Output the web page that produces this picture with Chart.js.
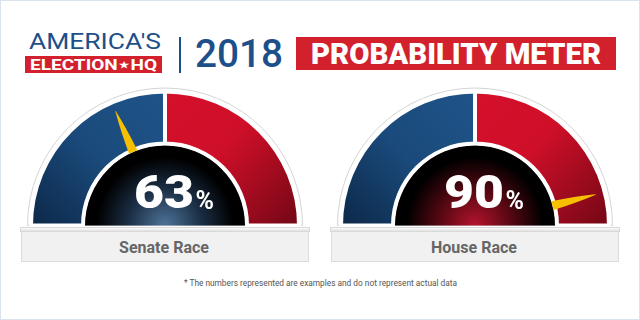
<!DOCTYPE html>
<html>
<head>
<meta charset="utf-8">
<script src="https://cdn.jsdelivr.net/npm/chart.js@4.4.1/dist/chart.umd.min.js"></script>
<style>
  html, body { margin: 0; padding: 0; background: #fff; }
  #page {
    position: relative; width: 640px; height: 320px; overflow: hidden; background: #fff;
    font-family: Roboto, "Noto Sans", sans-serif;
    box-shadow: inset 0 0 0 1px #dbe4ee;
  }
  .t { position: absolute; white-space: nowrap; transform-origin: 0 0; }
  .box { position: absolute; }
  canvas { position: absolute; }
  .lip {
    position: absolute; height: 5px;
    background: linear-gradient(#fbfbfb, #e2e2e2);
    border: 1px solid #d9d9d9; box-sizing: border-box;
  }
  .plate {
    position: absolute; height: 30px; background: #f1f1f1;
    border: 1px solid #dcdcdc; border-top: none; box-sizing: border-box;
  }
  .star { font-size: 9px; vertical-align: 2px; margin: 0 1px; }
</style>
</head>
<body>
<div id="page"></div>

<script>
// ---- data ----
const races = ['Senate Race', 'House Race'];
const chances = [63, 90];        // big number shown in each dial (percent)
const needleAt = [37, 92];       // needle position along the dial, 0 = left end, 100 = right end
const dialSplit = [50, 50];      // blue half / red half of each dial
const sides = ['Democrats', 'Republicans'];

// ---- layout ----
const page = document.getElementById('page');
const centers = [165, 475];
const baseY = 226;
const glows = [
  ['#4f7499', '#1b2f46', '#000'],
  ['#b5132d', '#560812', '#000']
];

function put(text, o) {
  const el = document.createElement('span');
  el.className = 't';
  if (o.html) el.innerHTML = o.html; else el.textContent = text;
  el.style.font = `${o.weight || 400} ${o.size}px ${o.family || 'Roboto'}`;
  el.style.lineHeight = o.size + 'px';
  el.style.color = o.color || '#000';
  page.appendChild(el);
  const w = el.getBoundingClientRect().width;
  const sx = o.width ? o.width / w : (o.sx || 1);
  const x = o.center !== undefined ? o.center - w * sx / 2 : o.left;
  el.style.left = x + 'px';
  el.style.top = (o.base - 0.842 * o.size) + 'px';
  if (sx !== 1) el.style.transform = `scaleX(${sx})`;
  return { el, right: x + w * sx };
}

function box(left, top, w, h, bg) {
  const d = document.createElement('div');
  d.className = 'box';
  Object.assign(d.style, { left: left + 'px', top: top + 'px', width: w + 'px', height: h + 'px', background: bg });
  page.appendChild(d);
  return d;
}

// header
put("AMERICA'S", { left: 29, base: 50, size: 22, weight: 400, color: '#1d4f8a', width: 132 });
box(25, 56, 137, 17, '#d3202d');
put('ELECTION★HQ', { html: 'ELECTION<span class="star">★</span>HQ', center: 93.5, base: 70.5, size: 15, weight: 700, color: '#fff', width: 127 });
box(179, 37, 1.5, 36, '#1d4f8a');
put('2018', { left: 195, base: 68, size: 39, weight: 500, color: '#1d4f8a', width: 88 });
box(296, 37, 320, 33, '#d3202d');
put('PROBABILITY METER', { center: 456, base: 64.5, size: 29, weight: 900, color: '#fff', width: 290 });

// ---- chart pieces ----
function ringFill(c) {
  const chart = c.chart, area = chart.chartArea;
  const flat = c.dataIndex === 0 ? '#1b4e80' : '#c80f28';
  if (!area) return flat;
  const ctrl = chart.getDatasetMeta(0).controller;
  if (!Number.isFinite(ctrl.offsetY) || !Number.isFinite(ctrl.outerRadius)) return flat;
  const cx = (area.left + area.right) / 2 + ctrl.offsetX;
  const cy = (area.top + area.bottom) / 2 + ctrl.offsetY;
  const r = ctrl.outerRadius;
  const ctx = chart.ctx;
  if (c.dataIndex === 0) {
    const g = ctx.createLinearGradient(cx, cy - r, cx - r, cy);
    g.addColorStop(0, '#1f5489');
    g.addColorStop(0.5, '#1a4a7b');
    g.addColorStop(1, '#0c2848');
    return g;
  }
  const g = ctx.createLinearGradient(cx - 10, cy - r, cx + r, cy);
  g.addColorStop(0, '#d5102b');
  g.addColorStop(0.45, '#cf0f29');
  g.addColorStop(1, '#720715');
  return g;
}

const dialDecor = {
  id: 'dialDecor',
  beforeDatasetsDraw(chart, args, opts) {
    const ring = chart.getDatasetMeta(0).data[0];
    const { x, y, outerRadius, innerRadius } = ring;
    const ctx = chart.ctx;
    ctx.save();
    // white rim with thin grey edge
    ctx.beginPath();
    ctx.arc(x, y, outerRadius + 3.5, Math.PI, 2 * Math.PI);
    ctx.closePath();
    ctx.fillStyle = '#fff';
    ctx.fill();
    ctx.strokeStyle = '#d4d4d4';
    ctx.lineWidth = 1;
    ctx.stroke();
    // dark face with glow at the bottom
    const fr = innerRadius - 1.5;
    const g = ctx.createRadialGradient(x, y, 0, x, y, fr);
    g.addColorStop(0, opts.glow[0]);
    g.addColorStop(0.45, opts.glow[1]);
    g.addColorStop(0.85, opts.glow[2]);
    ctx.beginPath();
    ctx.arc(x, y, fr, Math.PI, 2 * Math.PI);
    ctx.closePath();
    ctx.fillStyle = g;
    ctx.fill();
    ctx.restore();
  },
  afterDatasetsDraw(chart) {
    const ring = chart.getDatasetMeta(0).data[0];
    const mark = chart.getDatasetMeta(1).data[0];
    const ang = mark.endAngle;
    const r0 = ring.innerRadius - 2;
    const r1 = ring.outerRadius - 10;
    const ctx = chart.ctx;
    ctx.save();
    ctx.translate(mark.x, mark.y);
    ctx.rotate(ang);
    ctx.beginPath();
    ctx.moveTo(r0, -4.5);
    ctx.quadraticCurveTo(r0 + (r1 - r0) * 0.55, -3.2, r1, -0.3);
    ctx.quadraticCurveTo(r1 + 1.5, 0, r1, 0.3);
    ctx.quadraticCurveTo(r0 + (r1 - r0) * 0.55, 3.2, r0, 4.5);
    ctx.closePath();
    ctx.fillStyle = '#f6bf00';
    ctx.fill();
    ctx.restore();
  }
};

races.forEach((race, i) => {
  const cx = centers[i];
  const cv = document.createElement('canvas');
  cv.width = 290; cv.height = 150;
  cv.style.left = (cx - 145) + 'px';
  cv.style.top = (baseY - 145) + 'px';
  cv.style.width = '290px'; cv.style.height = '150px';
  page.appendChild(cv);

  new Chart(cv, {
    type: 'doughnut',
    data: {
      labels: sides,
      datasets: [
        { data: dialSplit, backgroundColor: ringFill, borderColor: '#fff', borderWidth: 4 },
        { data: [needleAt[i], 100 - needleAt[i]], weight: 0, backgroundColor: 'rgba(0,0,0,0)', borderWidth: 0 }
      ]
    },
    options: {
      responsive: false,
      animation: false,
      events: [],
      rotation: -90,
      circumference: 180,
      radius: 134,
      cutout: '61.2%',
      layout: { padding: { top: 5 } },
      plugins: {
        legend: { display: false },
        tooltip: { enabled: false },
        dialDecor: { glow: glows[i] }
      }
    },
    plugins: [dialDecor]
  });

  // base plate
  const lip = document.createElement('div');
  lip.className = 'lip';
  Object.assign(lip.style, { left: (cx - 145) + 'px', top: (baseY + 1) + 'px', width: '290px' });
  page.appendChild(lip);
  const plate = document.createElement('div');
  plate.className = 'plate';
  Object.assign(plate.style, { left: (cx - 144) + 'px', top: (baseY + 6) + 'px', width: '288px' });
  page.appendChild(plate);

  put(race, { center: cx - 1, base: 253, size: 16, weight: 700, color: '#666' });

  const num = put(String(chances[i]), { center: cx - 1.5, base: 208, size: 47, weight: 900, color: '#fff', sx: 1.1 });
  put('%', { left: num.right + 2, base: 209, size: 25, weight: 700, color: '#fff' });
});

put('* The numbers represented are examples and do not represent actual data',
    { center: 320, base: 286, size: 9.5, weight: 400, color: '#555', width: 273 });
</script>
</body>
</html>
